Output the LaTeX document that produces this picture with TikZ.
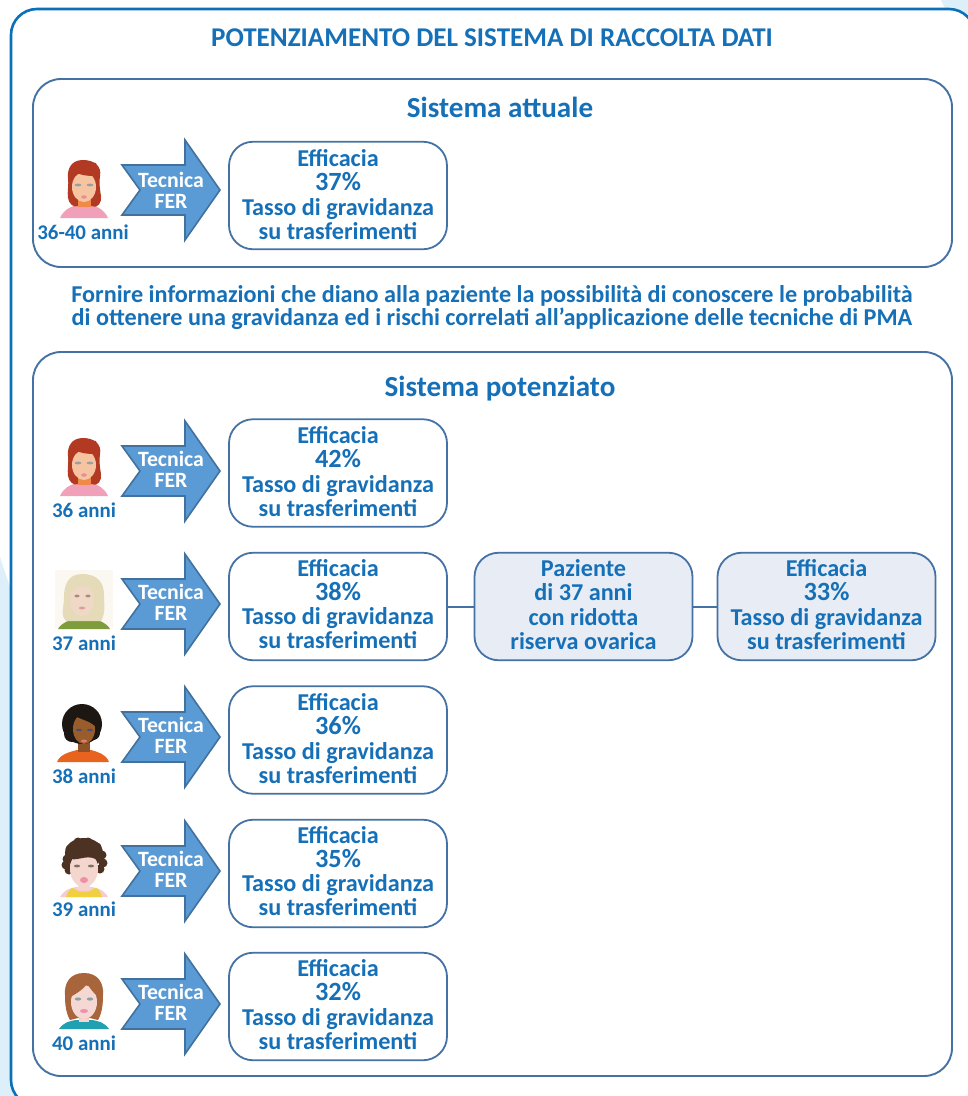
\documentclass[tikz,border=0pt]{standalone}
\usepackage{fontspec}
\setmainfont{Carlito}
\definecolor{txtblue}{HTML}{1570B8}
\definecolor{frameblue}{HTML}{0A70B8}
\definecolor{boxline}{HTML}{4472A4}
\definecolor{arrowfill}{HTML}{5B9BD5}
\definecolor{arrowline}{HTML}{41719C}
\definecolor{paleback}{HTML}{DDF0FA}
\definecolor{boxfill}{HTML}{E8ECF4}
\newcommand{\hc}[1]{\definecolor{c#1}{HTML}{#1}}
\hc{F0A0B8}\hc{B23A22}\hc{F08A4A}\hc{F7C4A2}\hc{98A0A0}\hc{E88C98}
\hc{FBF8F2}\hc{7E9C3C}\hc{E6DBB8}\hc{EFD8C6}\hc{A88A80}\hc{D8A098}
\hc{E8641E}\hc{8E5228}\hc{1C1712}\hc{9A5C2A}\hc{40507A}\hc{D87C78}
\hc{F4CDD0}\hc{F0D040}\hc{4C3222}\hc{F5D6CF}\hc{807060}\hc{F090A8}
\hc{20A0B0}\hc{F5D5D0}\hc{A8643A}\hc{F5D8D2}\hc{8AA0A8}\hc{F090B0}
\newcommand{\pctf}{\fontsize{26.3}{24}\selectfont}
% #2 is twice the amount by which the text block is lifted inside its box
\newcommand{\efftext}[2]{Efficacia\\{\pctf #1\%}\\Tasso di gravidanza\\su trasferimenti\rule[-#2pt]{0pt}{1pt}}
\tikzset{
  panel/.style={draw=boxline,line width=1.9pt,rounded corners=28pt,fill=white},
  resbox/.style={draw=boxline,line width=1.8pt,rounded corners=24pt,fill=white,minimum width=218pt,minimum height=107.5pt,inner sep=0pt,align=center,text=txtblue,font=\bfseries\fontsize{24.2}{24.2}\selectfont},
  shadebox/.style={resbox,fill=boxfill},
  arrowshape/.style={draw=arrowline,line width=1.6pt,fill=arrowfill,line join=miter},
  arrowtext/.style={text=white,align=center,inner sep=0pt,font=\bfseries\fontsize{21.8}{21.3}\selectfont},
  agelabel/.style={anchor=base,inner sep=0pt,text=txtblue,font=\bfseries\fontsize{20.9}{21}\selectfont},
  headline/.style={anchor=base,inner sep=0pt,text=txtblue,font=\bfseries\fontsize{29.1}{30}\selectfont},
  link/.style={draw=boxline,line width=2pt}
}
% arrow centred on #1, label centred on #3
\newcommand{\fer}[3]{%
  \draw[arrowshape] (122,#1-25) -- (185,#1-25) -- (185,#1-50) -- (220,#1) -- (185,#1+50) -- (185,#1+25) -- (122,#1+25) -- (140,#1) -- cycle;
  \node[arrowtext] (#2) at (171,#3) {Tecnica\\FER};}
\begin{document}
\begin{tikzpicture}[x=1pt,y=-1pt]
\useasboundingbox (0,0) rectangle (968,1096);
\clip (0,0) rectangle (968,1096);
\fill[white] (0,0) rectangle (968,1096);
% pale background
\fill[paleback] (0,557) -- (11,590) -- (40,1096) -- (0,1096) -- cycle;
\fill[paleback] (941,0) -- (968,0) -- (968,40) -- (955,30) -- cycle;
% outer frame
\draw[frameblue,line width=2.6pt,rounded corners=26pt,fill=white] (11,9) rectangle (975,1106);
% title
\node[headline,font=\bfseries\fontsize{27.1}{28}\selectfont] (title) at (492,46) {POTENZIAMENTO DEL SISTEMA DI RACCOLTA DATI};
% panels
\node[panel,minimum width=919pt,minimum height=188pt,inner sep=0pt] (cur) at (492.5,173) {};
\node[panel,minimum width=919pt,minimum height=724pt,inner sep=0pt] (pot) at (492.5,714) {};
\node[headline] (curh) at (500,117) {Sistema attuale};
\node[headline] (poth) at (500,396) {Sistema potenziato};
\node[anchor=center,align=center,inner sep=0pt,text=txtblue,font=\bfseries\fontsize{24.2}{23.2}\selectfont] (info) at (492,307.5)
 {Fornire informazioni che diano alla paziente la possibilità di conoscere le probabilità\\di ottenere una gravidanza ed i rischi correlati all’applicazione delle tecniche di PMA};
% result boxes
\node[resbox] (r0) at (338,195.5) {\efftext{37}{2}};
\node[resbox] (r1) at (338,473) {\efftext{42}{3}};
\node[resbox] (r2) at (338,606.5) {\efftext{38}{5}};
\node[resbox] (r3) at (338,740) {\efftext{36}{3}};
\node[resbox] (r4) at (338,873.5) {\efftext{35}{5}};
\node[resbox] (r5) at (338,1006.5) {\efftext{32}{4}};
\node[shadebox] (pz) at (583.5,606.5) {Paziente\\di 37 anni\\con ridotta\\riserva ovarica\rule[-4pt]{0pt}{1pt}};
\node[shadebox] (rr) at (826.5,606.5) {\efftext{33}{4}};
\draw[link] (r2) -- (pz);
\draw[link] (pz) -- (rr);
% arrows
\fer{190}{a0}{190}
\fer{471}{a1}{469.5}
\fer{604}{a2}{602.5}
\fer{737}{a3}{735.5}
\fer{871}{a4}{869.5}
\fer{1004}{a5}{1002.5}
% age labels
\node[agelabel] (l0) at (83,239) {36-40 anni};
\node[agelabel] (l1) at (84,517) {36 anni};
\node[agelabel] (l2) at (84,650) {37 anni};
\node[agelabel] (l3) at (84,783) {38 anni};
\node[agelabel] (l4) at (84,916) {39 anni};
\node[agelabel] (l5) at (84,1050) {40 anni};
% red-haired woman (two rows)
\foreach \fy in {218,496}{
\begin{scope}[shift={(84,\fy)}]
  \fill[cF0A0B8] (-24,0) .. controls (-20,-9) and (-12,-12) .. (-6,-13) -- (6,-13) .. controls (12,-12) and (20,-9) .. (24,0) -- cycle;
  \fill[cB23A22] (-1,-58) .. controls (-12,-58) and (-17,-50) .. (-16,-40) .. controls (-15,-34) and (-17,-26) .. (-16,-20) .. controls (-15,-14) and (-10,-10) .. (-6,-12) -- (8,-12) .. controls (14,-9) and (18,-16) .. (17,-22) .. controls (16,-28) and (15,-34) .. (16,-42) .. controls (18,-52) and (10,-58) .. (-1,-58) -- cycle;
  \fill[cF08A4A] (-6,-24) rectangle (7,-11);
  \fill[cF7C4A2] (0,-31) ellipse (12pt and 15pt);
  \fill[cB23A22] (-13,-49) .. controls (-6,-42) and (5,-42) .. (13,-42) -- (12,-55) -- (-9,-56) -- cycle;
  \fill[c98A0A0] (-6,-33) ellipse (3.5pt and 1.4pt);
  \fill[c98A0A0] (6,-33) ellipse (3.5pt and 1.4pt);
  \fill[cE88C98] (0,-21) ellipse (2.8pt and 1.7pt);
\end{scope}}
% blonde woman
\begin{scope}[shift={(84,629)}]
  \fill[cFBF8F2] (-29,-59) rectangle (29,0);
  \fill[c7E9C3C] (-26,0) .. controls (-22,-7) and (-14,-9) .. (-8,-10) -- (8,-10) .. controls (14,-9) and (22,-7) .. (26,0) -- cycle;
  \fill[cE6DBB8] (-2,-55) .. controls (-16,-55) and (-20,-44) .. (-20,-32) .. controls (-20,-22) and (-24,-14) .. (-18,-8) -- (-8,-8) -- (8,-8) -- (17,-8) .. controls (22,-16) and (20,-26) .. (20,-34) .. controls (20,-46) and (14,-55) .. (-2,-55) -- cycle;
  \fill[cEFD8C6] (-2,-29) ellipse (12pt and 16pt);
  \fill[cE6DBB8] (-14,-36) .. controls (-6,-44) and (4,-46) .. (10,-36) -- (10,-50) -- (-10,-50) -- cycle;
  \fill[cA88A80] (-7,-33) ellipse (2.6pt and 1.4pt);
  \fill[cA88A80] (4,-33) ellipse (2.6pt and 1.4pt);
  \fill[cD8A098] (-2,-21) ellipse (3.2pt and 1.4pt);
\end{scope}
% dark woman
\begin{scope}[shift={(84,762)}]
  \fill[cE8641E] (-27,0) .. controls (-24,-8) and (-14,-10) .. (-7,-12) -- (7,-12) .. controls (14,-10) and (22,-8) .. (25,0) -- cycle;
  \fill[c8E5228] (-6,-22) rectangle (6,-10);
  \fill[c1C1712] (-2,-38) circle (20pt);
  \fill[c1C1712] (-12,-28) circle (8pt);
  \fill[c1C1712] (9,-29) circle (7pt);
  \fill[c9A5C2A] (0,-33) ellipse (11pt and 15pt);
  \fill[c1C1712] (-12,-48) .. controls (-4,-42) and (6,-42) .. (13,-34) -- (14,-50) -- (-6,-54) -- cycle;
  \fill[c40507A] (-5,-32) ellipse (3pt and 1.2pt);
  \fill[c40507A] (6,-32) ellipse (3pt and 1.2pt);
  \fill[cD87C78] (0,-21) ellipse (3pt and 1.5pt);
\end{scope}
% curly-haired woman
\begin{scope}[shift={(84,897)}]
  \fill[cF4CDD0] (-24,0) .. controls (-20,-7) and (-14,-9) .. (-8,-10) -- (8,-10) .. controls (14,-9) and (20,-7) .. (24,0) -- cycle;
  \fill[cF0D040] (-18,0) .. controls (-16,-6) and (-13,-9) .. (-11,-9) .. controls (-6,-4) and (6,-4) .. (11,-9) .. controls (14,-9) and (16,-6) .. (18,0) -- cycle;
  \fill[c4C3222] (0,-44) ellipse (19pt and 15pt);
  \foreach \hx/\hy in {-17/-38,-18/-32,-14/-48,-6/-55,4/-55,13/-50,18/-42,19/-34,16/-28,-15/-27}{\fill[c4C3222] (\hx,\hy) circle (4.5pt);}
  \fill[cF5D6CF] (0,-28) ellipse (14pt and 18pt);
  \fill[cF5D6CF] (-6,-16) rectangle (6,-7);
  \fill[c4C3222] (-13,-38) .. controls (-6,-36) and (6,-44) .. (14,-36) -- (14,-50) -- (-12,-50) -- cycle;
  \fill[c807060] (-7,-31) ellipse (3pt and 1.4pt);
  \fill[c807060] (7,-31) ellipse (3pt and 1.4pt);
  \fill[cF090A8] (0,-17) ellipse (4pt and 3pt);
\end{scope}
% auburn woman
\begin{scope}[shift={(84,1029)}]
  \fill[c20A0B0] (-25,0) .. controls (-20,-7) and (-14,-8) .. (-8,-9) -- (8,-9) .. controls (14,-8) and (20,-7) .. (25,0) -- cycle;
  \fill[cF5D5D0] (-5,-16) rectangle (5,-7);
  \fill[cA8643A] (0,-56) .. controls (-14,-56) and (-20,-46) .. (-19,-34) .. controls (-19,-24) and (-18,-16) .. (-14,-9) -- (-6,-11) -- (6,-11) -- (14,-9) .. controls (18,-16) and (19,-24) .. (19,-34) .. controls (20,-46) and (14,-56) .. (0,-56) -- cycle;
  \fill[cF5D8D2] (0,-27) ellipse (13pt and 17pt);
  \fill[cA8643A] (-14,-32) .. controls (-6,-36) and (2,-42) .. (3,-46) .. controls (6,-40) and (10,-36) .. (14,-32) -- (12,-50) -- (-12,-50) -- cycle;
  \fill[c8AA0A8] (-6,-30) ellipse (3.2pt and 1.6pt);
  \fill[c8AA0A8] (6,-30) ellipse (3.2pt and 1.6pt);
  \fill[cF090B0] (0,-18) ellipse (4pt and 2pt);
\end{scope}
\end{tikzpicture}
\end{document}
